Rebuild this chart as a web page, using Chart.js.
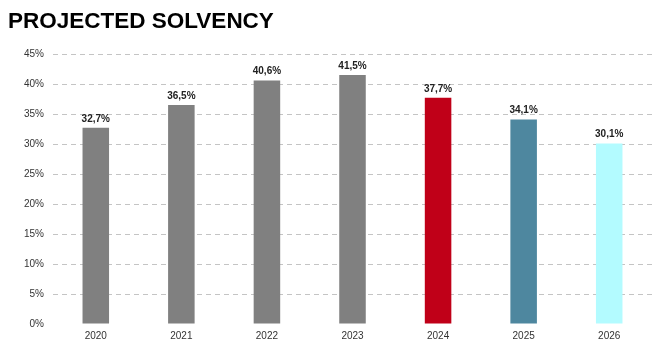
<!DOCTYPE html>
<html>
<head>
<meta charset="utf-8">
<script src="https://cdn.jsdelivr.net/npm/chart.js@4"></script>
<style>
  html, body { margin: 0; padding: 0; background: #fff; }
  #wrap { width: 660px; height: 361px; }
</style>
</head>
<body>
<div id="wrap"><canvas id="solvencyChart"></canvas></div>
<script>
const years = ['2020', '2021', '2022', '2023', '2024', '2025', '2026'];
const solvency = [32.7, 36.5, 40.6, 41.5, 37.7, 34.1, 30.1];
const barColors = ['#808080', '#808080', '#808080', '#808080', '#C00018', '#4E879F', '#B3FBFF'];
const yTicks = [0, 5, 10, 15, 20, 25, 30, 35, 40, 45];

// draws the value above each bar
const valueLabels = {
  id: 'valueLabels',
  afterDatasetsDraw(chart) {
    const ctx = chart.ctx;
    const meta = chart.getDatasetMeta(0);
    ctx.save();
    ctx.font = 'bold 10px "Liberation Sans", Arial, sans-serif';
    ctx.fillStyle = '#222';
    ctx.textAlign = 'center';
    ctx.textBaseline = 'bottom';
    meta.data.forEach((bar, i) => {
      ctx.fillText(solvency[i].toFixed(1).replace('.', ',') + '%', bar.x, bar.y - 4);
    });
    ctx.restore();
  }
};

new Chart(document.getElementById('solvencyChart'), {
  type: 'bar',
  data: {
    labels: years,
    datasets: [{
      data: solvency,
      backgroundColor: barColors,
      borderWidth: 0,
      barPercentage: 0.31,
      categoryPercentage: 1
    }]
  },
  options: {
    responsive: true,
    maintainAspectRatio: false,
    animation: false,
    layout: { padding: { left: 8, right: 8, top: 0, bottom: 13 } },
    plugins: {
      legend: { display: false },
      tooltip: { enabled: false },
      title: {
        display: true,
        text: 'PROJECTED SOLVENCY',
        align: 'start',
        color: '#000',
        font: { family: '"Liberation Sans", Arial, sans-serif', size: 22.5, weight: 'bold' },
        padding: { top: 8, bottom: 19 }
      }
    },
    scales: {
      y: {
        min: 0,
        max: 45,
        afterBuildTicks(axis) { axis.ticks = yTicks.map(v => ({ value: v })); },
        afterFit(axis) { axis.width = 45; },
        grid: {
          color: (c) => c.tick && c.tick.value === 0 ? 'rgba(0,0,0,0)' : '#c4c4c4',
          lineWidth: 1,
          drawTicks: false
        },
        border: { display: false, dash: [5, 4] },
        ticks: {
          padding: 9,
          color: '#333',
          font: { family: '"Liberation Sans", Arial, sans-serif', size: 10 },
          callback: (v) => v + '%'
        }
      },
      x: {
        border: { display: false },
        grid: { display: false, drawTicks: false },
        ticks: {
          padding: 6,
          color: '#333',
          font: { family: '"Liberation Sans", Arial, sans-serif', size: 10 }
        }
      }
    }
  },
  plugins: [valueLabels]
});
</script>
</body>
</html>
